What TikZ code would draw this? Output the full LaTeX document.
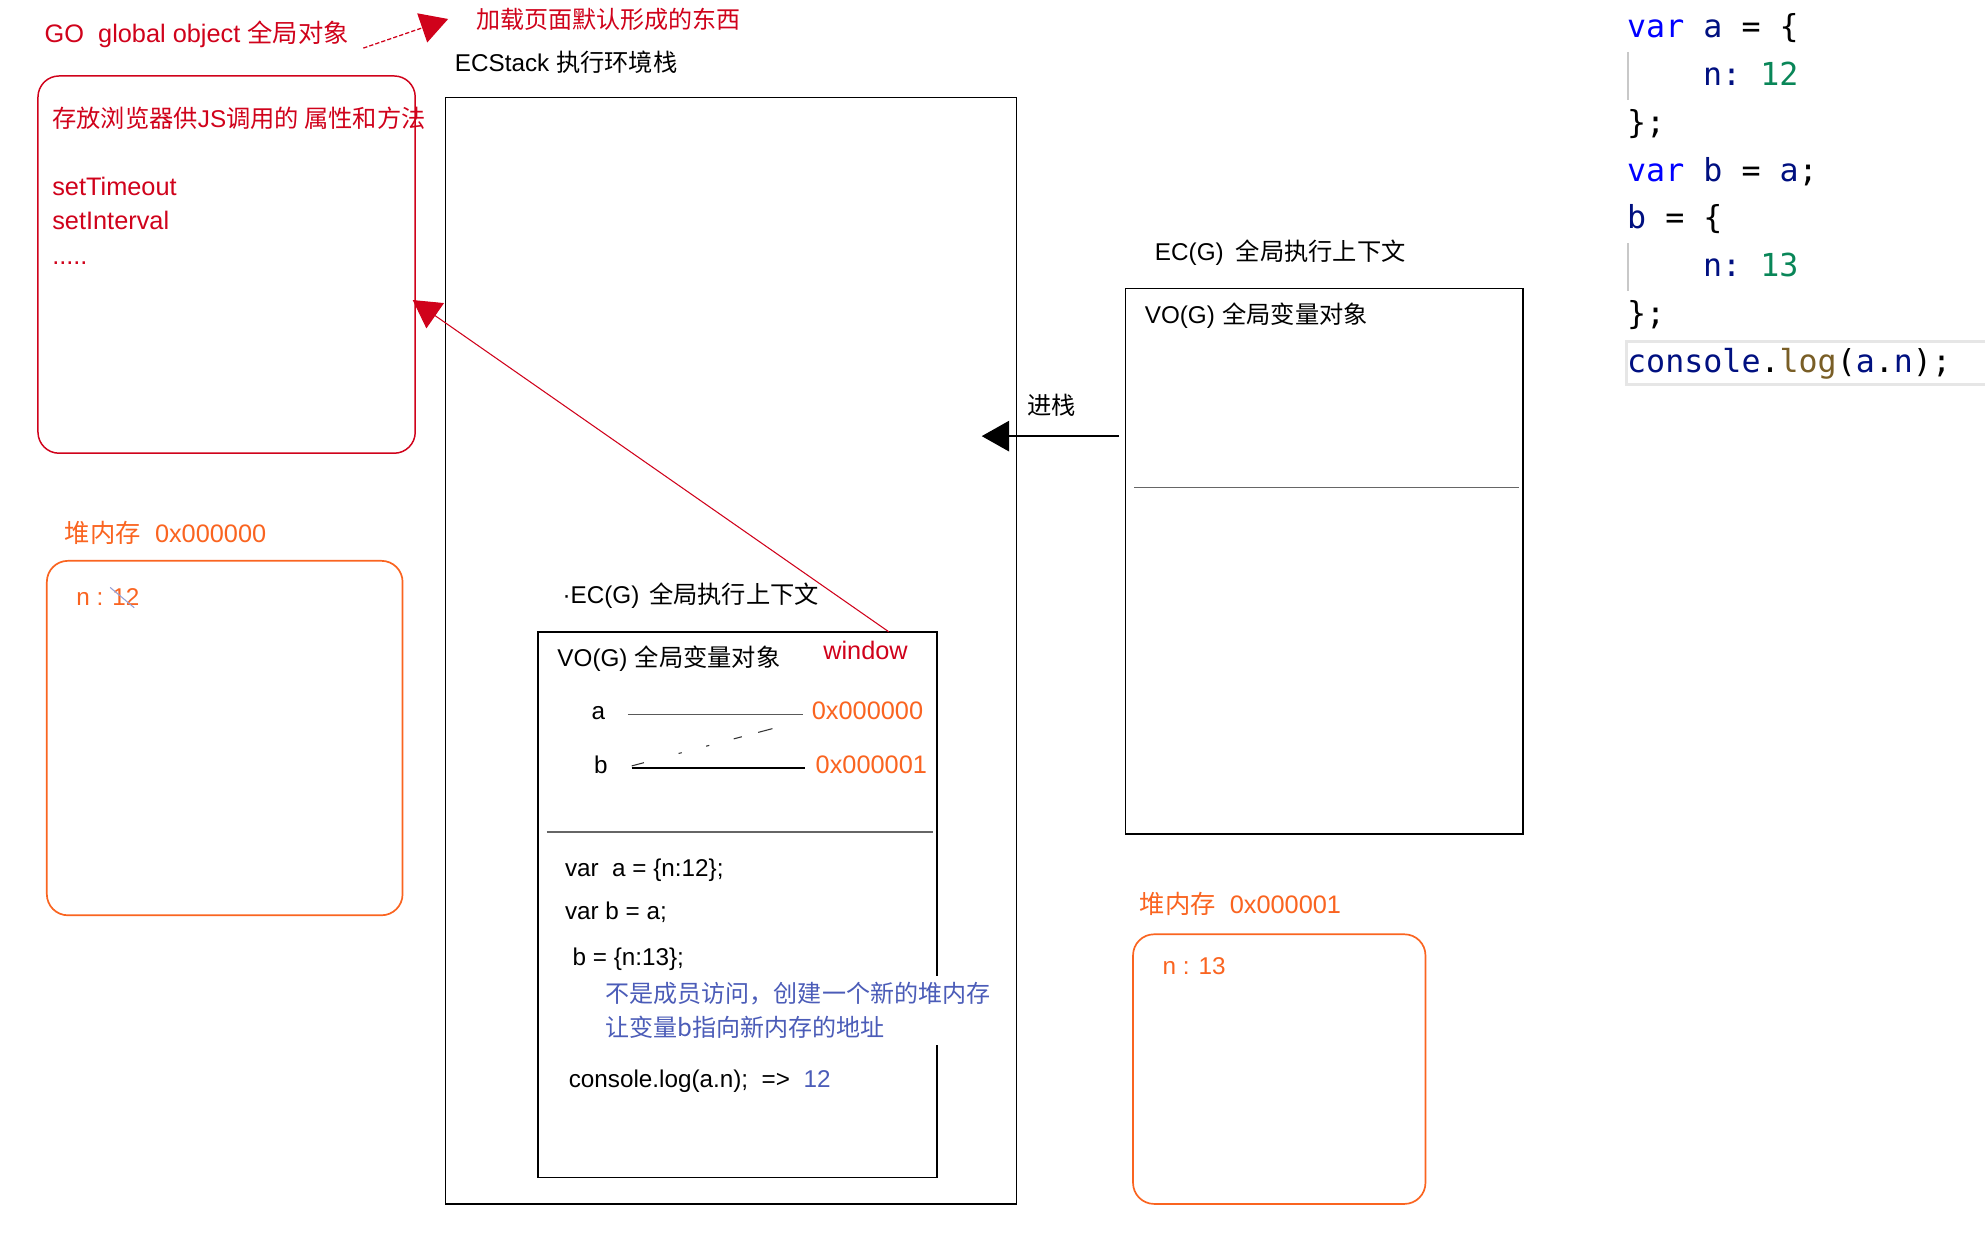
\documentclass[tikz,border=0pt]{standalone}
\usepackage{fontspec}
\setmainfont{Liberation Sans}
\newfontfamily\cjk{Noto Sans CJK SC}
\newfontfamily\codefont{DejaVu Sans Mono}
\usetikzlibrary{arrows.meta,fit}
\definecolor{cred}{HTML}{D0021B}
\definecolor{corange}{HTML}{FA6420}
\definecolor{cblue}{HTML}{4B5CB8}
\definecolor{kw}{HTML}{0000FF}
\definecolor{idf}{HTML}{001080}
\definecolor{num}{HTML}{098658}
\definecolor{fnc}{HTML}{795E26}
\definecolor{guide}{HTML}{C8C8C8}
\definecolor{hl}{HTML}{E6E6E6}

\begin{document}
\begin{tikzpicture}[x=0.6pt,y=-0.6pt,
  txt/.style={anchor=west, inner sep=0pt, text height=9.5pt, text depth=1.5pt,
              font=\fontsize{11.5}{14}\selectfont},
  redtxt/.style={txt, text=cred, font=\fontsize{12}{14}\selectfont},
  orangetxt/.style={txt, text=corange, font=\fontsize{12}{14}\selectfont},
  frame/.style={draw=black, line width=0.8pt, inner sep=0pt},
  heap/.style={draw=corange, line width=0.8pt, rounded corners=10pt, inner sep=0pt},
  sepline/.style={draw=black!60, line width=0.8pt},
  code/.style={anchor=base west, inner sep=0pt,
               font=\codefont\fontsize{15}{18}\selectfont\frenchspacing},
  bigtip/.style={-{Triangle[length=13pt,width=14.5pt]}},
]
\useasboundingbox[fill=white] (0,0) rectangle (1568,981);

% ---- frames ----
\node[draw=cred, line width=0.7pt, rounded corners=10pt, inner sep=0pt,
      fit={(30,60)(328,358)}] (gobox) {};
\node[frame, fit={(352,77)(803,951)}] (ecstack) {};
\node[frame, fit={(425,499)(740,930)}] (ecg) {};
\node[frame, fit={(889,228)(1203,659)}] (ecgright) {};
\node[heap, fit={(37,443)(318,723)}] (heapa) {};
\node[heap, fit={(895,738)(1126,951)}] (heapb) {};

\draw[sepline] (432,657) -- (737,657);
\draw[sepline] (896,385) -- (1200,385);

% ---- global object ----
\node[redtxt] (gotitle) at (35,27) {GO~~global object {\cjk 全局对象}};
\node[redtxt, font=\fontsize{11.4}{14}\selectfont] (loadnote) at (376,16) {\cjk 加载页面默认形成的东西};
\node[redtxt, font=\fontsize{11.5}{14}\selectfont] (godesc) at (41,94)
      {{\cjk 存放浏览器供}JS{\cjk 调用的 属性和方法}};
\node[redtxt] (st) at (41,148) {setTimeout};
\node[redtxt] (si) at (41,175) {setInterval};
\node[redtxt] (more) at (41,202) {.....};

% ---- execution context stack ----
\node[txt] (stacktitle) at (359,50) {ECStack {\cjk 执行环境栈}};
\node[txt] (ectitle) at (444,470) {·EC(G)\hspace{0.4em}{\cjk 全局执行上下文}};
\node[txt] (votitle) at (440,520) {VO(G)\hspace{0.3em}{\cjk 全局变量对象}};
\node[redtxt] (win) at (650,514) {window};
\node[txt] (va) at (467,562) {a};
\node[txt] (vb) at (469,604) {b};
\node[orangetxt] (addra) at (641,562) {0x000000};
\node[orangetxt] (addrb) at (644,604) {0x000001};
\draw[black!65, line width=0.8pt] (496,564.5) -- (634,564.5);
\draw[black, line width=0.7pt] (499,606.5) -- (636,606.5);
\draw[black!80, line width=0.5pt,
      dash pattern=on 6pt off 17pt on 1.5pt off 12pt on 1.5pt off 12pt on 4pt off 8pt on 7pt]
      (499,605) -- (616,574);

\node[txt] (c1) at (446,686) {var~~a = \{n:12\};};
\node[txt] (c2) at (446,720) {var b = a;};
\node[txt] (c3) at (452,756) {b = \{n:13\};};
\node[anchor=west, inner xsep=0pt, inner ysep=3pt, fill=white, align=left,
      text=cblue, font=\cjk\fontsize{11.4}{16.2}\selectfont] (note) at (478,798)
      {不是成员访问，创建一个新的堆内存\\让变量b指向新内存的地址};
\node[txt] (c4) at (449,852) {console.log(a.n);~~=>~~{\color{cblue}12}};

% ---- right-hand context ----
\node[txt] (ectitle2) at (912,199) {EC(G)\hspace{0.5em}{\cjk 全局执行上下文}};
\node[txt] (votitle2) at (904,249) {VO(G)\hspace{0.3em}{\cjk 全局变量对象}};
\node[txt] (push) at (811,321) {\cjk 进栈};

% ---- heap memory ----
\node[orangetxt] (heapatitle) at (51,422) {{\cjk 堆内存}~~0x000000};
\node[orangetxt, font=\fontsize{11.5}{14}\selectfont] (heapaval) at (60,472) {n : 12};
\draw[cblue!60, line width=0.5pt] (87,464) -- (106,480);
\node[orangetxt] (heapbtitle) at (900,715) {{\cjk 堆内存}~~0x000001};
\node[orangetxt, font=\fontsize{11.5}{14}\selectfont] (heapbval) at (918,763) {n : 13};

% ---- connectors ----
\coordinate (gostart) at (287,38);
\coordinate (gotip) at (354,15);
\coordinate (winfoot) at (702,499);
\coordinate (gohit) at (326,237);
\coordinate (pushstart) at (884,344.5);
\coordinate (pushtip) at (775.5,344.5);
\draw[cred, line width=0.6pt, dash pattern=on 2pt off 1pt, bigtip] (gostart) -- (gotip);
\draw[cred, line width=0.5pt, bigtip] (winfoot) -- (gohit);
\draw[black, line width=0.6pt, bigtip] (pushstart) -- (pushtip);

% ---- source listing ----
\draw[guide, line width=0.8pt] (1286,41) -- (1286,79);
\draw[guide, line width=0.8pt] (1286,192) -- (1286,230);
\draw[hl, line width=1.5pt] (1570,270) -- (1285,270) -- (1285,304) -- (1570,304);
\node[code] (l1) at (1285,30) {{\color{kw}var} {\color{idf}a} = \{};
\node[code] (l2) at (1345,67.7) {{\color{idf}n:} {\color{num}12}};
\node[code] (l3) at (1285,105.4) {\};};
\node[code] (l4) at (1285,143.1) {{\color{kw}var} {\color{idf}b} = {\color{idf}a};};
\node[code] (l5) at (1285,180.8) {{\color{idf}b} = \{};
\node[code] (l6) at (1345,218.5) {{\color{idf}n:} {\color{num}13}};
\node[code] (l7) at (1285,256.2) {\};};
\node[code] (l8) at (1285,293.9) {{\color{idf}console}.{\color{fnc}log}({\color{idf}a}.{\color{idf}n});};
\end{tikzpicture}
\end{document}
